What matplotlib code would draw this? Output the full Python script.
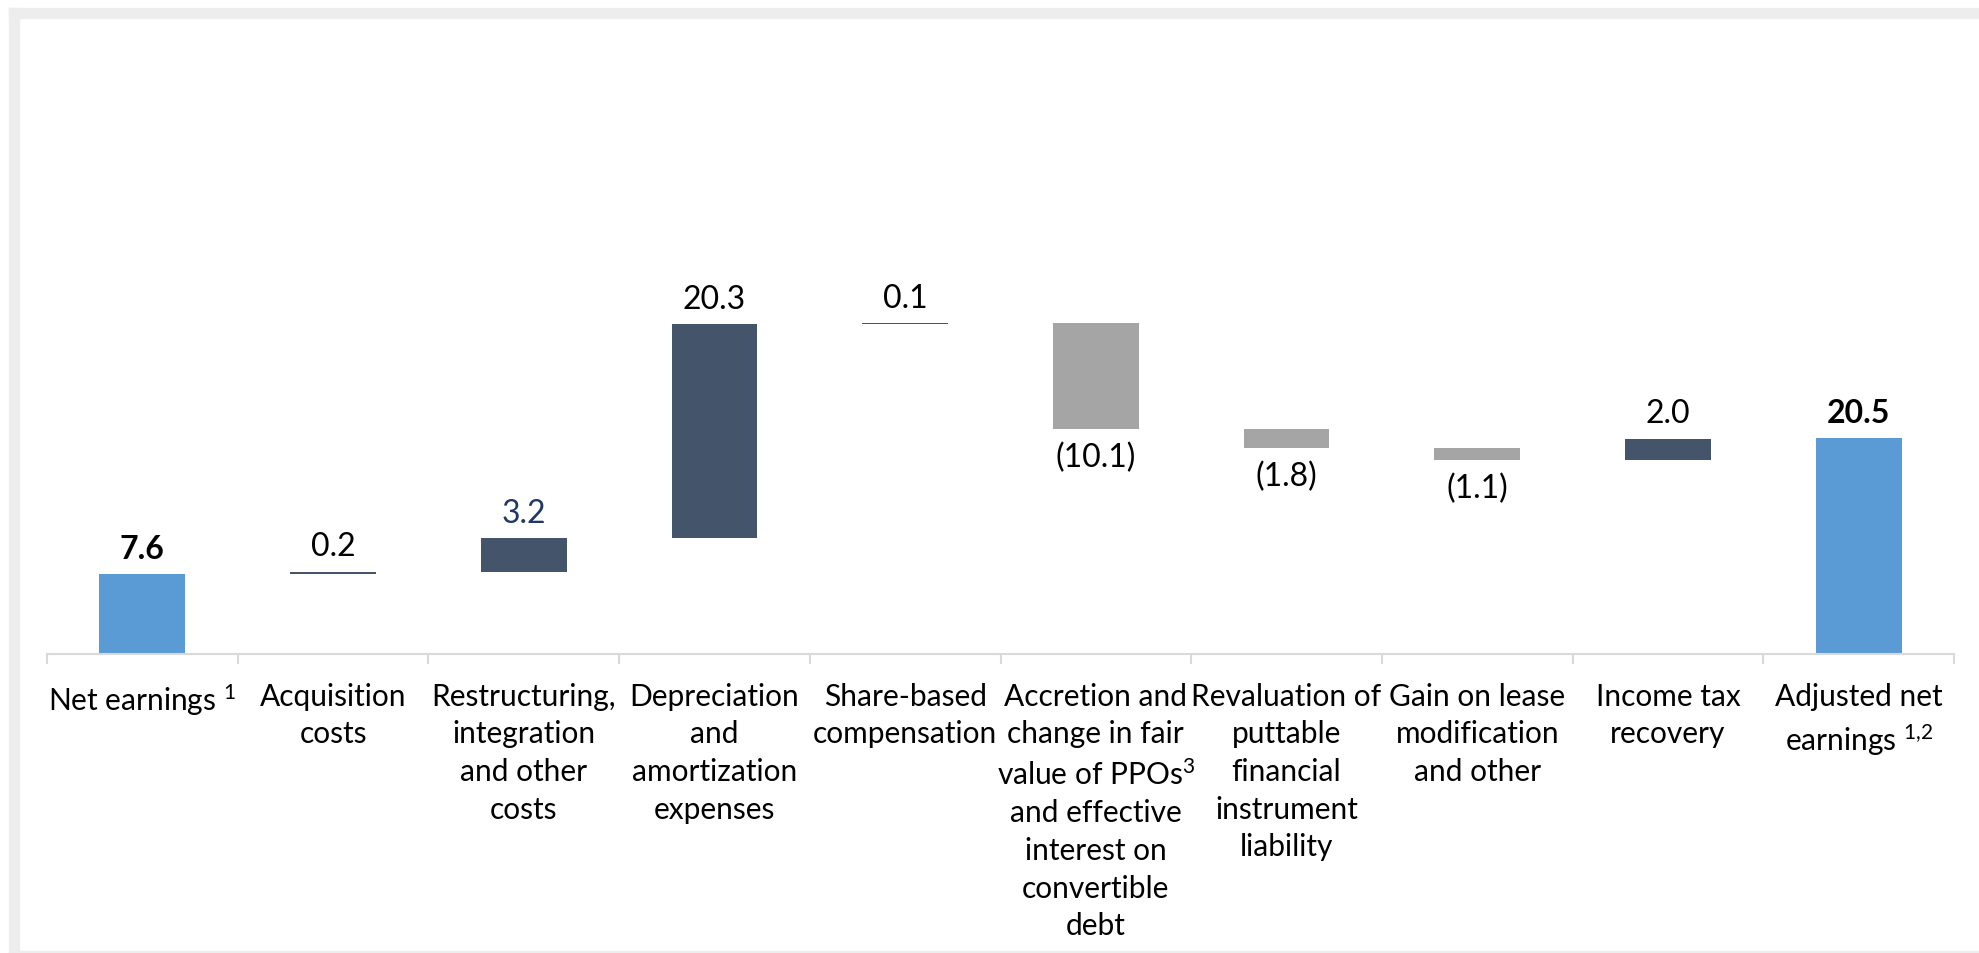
import matplotlib.pyplot as plt
import matplotlib.patches as patches
import numpy as np

plt.rcParams['font.family'] = ['Lato', 'DejaVu Sans']
plt.rcParams['mathtext.fontset'] = 'custom'
plt.rcParams['mathtext.rm'] = 'Lato'
plt.rcParams['mathtext.it'] = 'Lato'
plt.rcParams['mathtext.bf'] = 'Lato:bold'

# bridge from net earnings to adjusted net earnings ($ millions)
categories = [
    "Net earnings $^{1}$",
    "Acquisition\ncosts",
    "Restructuring,\nintegration\nand other\ncosts",
    "Depreciation\nand\namortization\nexpenses",
    "Share-based\ncompensation",
    "Accretion and\nchange in fair\nvalue of PPOs$^{3}$\nand effective\ninterest on\nconvertible\ndebt",
    "Revaluation of\nputtable\nfinancial\ninstrument\nliability",
    "Gain on lease\nmodification\nand other",
    "Income tax\nrecovery",
    "Adjusted net\nearnings $^{1{,}2}$",
]
net_earnings = 7.6
adjustments = [0.2, 3.2, 20.3, 0.1, -10.1, -1.8, -1.1, 2.0]
adjusted_net_earnings = 20.5

C_TOTAL = '#5B9BD5'
C_UP = '#44546A'
C_DOWN = '#A5A5A5'

VAL_FS = 23
CAT_FS = 21.5

fig = plt.figure(figsize=(19.79, 9.54), dpi=100)
ax = fig.add_axes([47 / 1979, 1 - 655 / 954, (1954 - 47) / 1979, (655 - 28) / 954])

x = np.arange(len(categories))
w = 0.45

# starting total
ax.bar(x[0], net_earnings, w, color=C_TOTAL)
ax.text(x[0], net_earnings + 1.0, f"{net_earnings:.1f}", ha='center', va='bottom',
        fontsize=VAL_FS, fontweight='bold', color='black')

running = net_earnings
for i, v in enumerate(adjustments, start=1):
    bottom = running if v >= 0 else running + v
    color = C_UP if v >= 0 else C_DOWN
    ax.bar(x[i], abs(v), w, bottom=bottom, color=color)
    if v >= 0:
        lbl_color = '#203864' if i == 2 else 'black'
        ax.text(x[i], running + v + 1.0, f"{v:.1f}", ha='center', va='bottom',
                fontsize=VAL_FS, color=lbl_color)
    else:
        ax.text(x[i], running + v - 1.2, f"({abs(v):.1f})", ha='center', va='top',
                fontsize=VAL_FS, color='black')
    running += v

# ending total
ax.bar(x[-1], adjusted_net_earnings, w, color=C_TOTAL)
ax.text(x[-1], adjusted_net_earnings + 1.0, f"{adjusted_net_earnings:.1f}", ha='center',
        va='bottom', fontsize=VAL_FS, fontweight='bold', color='black')

ax.set_xlim(-0.5, len(categories) - 0.5)
ax.set_ylim(0, (655 - 28) / 10.54)

for s in ['top', 'right', 'left']:
    ax.spines[s].set_visible(False)
ax.spines['bottom'].set_color('#D9D9D9')
ax.spines['bottom'].set_linewidth(1.5)
ax.set_yticks([])

ax.set_xticks(x)
ax.set_xticklabels(categories, fontsize=CAT_FS, linespacing=1.42, va='top')
ax.tick_params(axis='x', which='major', length=0, pad=20)
ax.set_xticks(np.arange(-0.5, len(categories)), minor=True)
ax.tick_params(axis='x', which='minor', length=7, width=1.5, color='#D9D9D9')

# light grey frame around the slide panel
fig.patches.append(patches.Rectangle((9 / 1979, 0), 10 / 1979, 1 - 9 / 954,
                                     transform=fig.transFigure, color='#EDEDED', zorder=0))
fig.patches.append(patches.Rectangle((9 / 1979, 1 - 19 / 954), 1, 10 / 954,
                                     transform=fig.transFigure, color='#EDEDED', zorder=0))
fig.patches.append(patches.Rectangle((9 / 1979, 0), 1, 2 / 954,
                                     transform=fig.transFigure, color='#EDEDED', zorder=0))

fig.savefig("out.png", dpi=100)
